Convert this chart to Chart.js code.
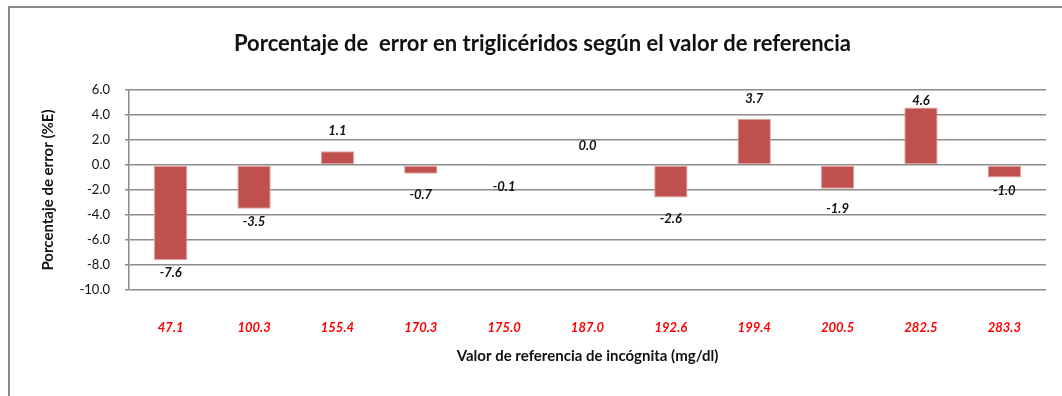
<!DOCTYPE html>
<html lang="es">
<head>
  <meta charset="UTF-8">
  <title>Porcentaje de error en triglicéridos</title>
  <script src="https://cdn.jsdelivr.net/npm/chart.js"></script>
  <style>
    html, body {
      margin: 0;
      padding: 0;
      background: #fff;
      overflow: hidden;
    }
    .frame {
      position: absolute;
      left: 8px;
      top: 6px;
      width: 1100px;
      height: 440px;
      border: 2px solid #8a8a8a;
      box-sizing: border-box;
    }
    canvas {
      position: absolute;
      left: 0;
      top: 0;
    }
  </style>
</head>
<body>
  <div class="frame"></div>
  <canvas id="errorChart" width="1062" height="396"></canvas>

  <script>
    // reference values (mg/dl) and error in %
    const referencias = ['47.1', '100.3', '155.4', '170.3', '175.0', '187.0', '192.6', '199.4', '200.5', '282.5', '283.3'];
    const errores = [-7.6, -3.5, 1.1, -0.7, -0.1, 0.0, -2.6, 3.7, -1.9, 4.6, -1.0];

    // where each value label sits relative to the bar end (px, + is down)
    const labelShift = [13, 13, -20, 21, 21, -19, 21, -20, 20, -7, 13];

    const FONT = 'Lato, "Open Sans", sans-serif';

    const valueLabels = {
      id: 'valueLabels',
      afterDatasetsDraw(chart) {
        const ctx = chart.ctx;
        const meta = chart.getDatasetMeta(0);
        ctx.save();
        ctx.font = 'italic bold 13px ' + FONT;
        ctx.fillStyle = '#111';
        ctx.textAlign = 'center';
        ctx.textBaseline = 'middle';
        meta.data.forEach((bar, i) => {
          ctx.fillText(errores[i].toFixed(1), bar.x, bar.y + labelShift[i]);
        });
        ctx.restore();
      }
    };

    new Chart(document.getElementById('errorChart'), {
      type: 'bar',
      data: {
        labels: referencias,
        datasets: [{
          data: errores,
          backgroundColor: '#C0504D',
          borderColor: '#E2A3A1',
          borderWidth: 1,
          borderSkipped: false,
          categoryPercentage: 1,
          barPercentage: 0.4
        }]
      },
      options: {
        responsive: false,
        animation: false,
        layout: {
          padding: { top: 6, left: 39, right: 16, bottom: 31 }
        },
        plugins: {
          legend: { display: false },
          tooltip: { enabled: false },
          title: {
            display: true,
            text: 'Porcentaje de  error en triglicéridos según el valor de referencia',
            color: '#111',
            font: { family: FONT, size: 22, weight: 'bold' },
            padding: { top: 25, bottom: 32.6 }
          }
        },
        scales: {
          y: {
            min: -10,
            max: 6,
            afterFit: s => { s.width = 90; },
            ticks: {
              stepSize: 2,
              color: '#111',
              padding: 15,
              font: { family: FONT, size: 13 },
              callback: v => v.toFixed(1)
            },
            grid: { color: '#8c8c8c', lineWidth: 1.5, tickLength: 4 },
            border: { color: '#8c8c8c', width: 1.5 },
            title: {
              display: true,
              text: 'Porcentaje de error (%E)',
              color: '#111',
              padding: 0,
              font: { family: FONT, size: 15, weight: 'bold' }
            }
          },
          x: {
            afterFit: s => { s.height = 75; },
            ticks: {
              color: '#FF0000',
              padding: 22,
              maxRotation: 0,
              autoSkip: false,
              font: { family: FONT, size: 13, style: 'italic', weight: 'bold' }
            },
            grid: { display: false },
            border: { display: false },
            title: {
              display: true,
              text: 'Valor de referencia de incógnita (mg/dl)',
              color: '#111',
              padding: 0,
              font: { family: FONT, size: 15, weight: 'bold' }
            }
          }
        }
      },
      plugins: [valueLabels]
    });
  </script>
</body>
</html>
